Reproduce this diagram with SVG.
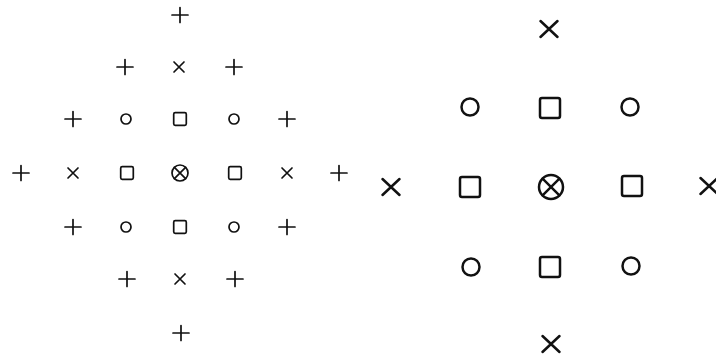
<svg xmlns="http://www.w3.org/2000/svg" xmlns:xlink="http://www.w3.org/1999/xlink" width="716" height="361" viewBox="0 0 716 361">
<style>
.s{fill:none;stroke:#111;stroke-linecap:round;stroke-linejoin:round}
.a{stroke-width:1.7}
.b{stroke-width:2.5}
</style>
<defs>
<path id="lp" class="s a" d="M-8,0H8M0,-7.5V7.5"/>
<path id="lx" class="s a" d="M-5,-5L5,5M5,-5L-5,5"/>
<circle id="lo" class="s a" r="5"/>
<rect id="ls" class="s a" x="-6.3" y="-6.3" width="12.6" height="12.6" rx="1.5"/>
<g id="lt" class="s a"><circle r="8"/><path d="M-5.6,-5.6L5.6,5.6M5.6,-5.6L-5.6,5.6"/></g>
<path id="rx" class="s b" d="M-8.5,-8L8.5,8M8.5,-8L-8.5,8"/>
<circle id="ro" class="s b" r="8.5"/>
<rect id="rs" class="s b" x="-10" y="-10" width="20" height="20" rx="2"/>
<g id="rt" class="s b"><circle r="12"/><path d="M-8.4,-8.4L8.4,8.4M8.4,-8.4L-8.4,8.4"/></g>
</defs>
<rect width="716" height="361" fill="#fff"/>
<g id="left">
<g id="l-r1"><use xlink:href="#lp" x="180" y="15"/></g>
<g id="l-r2"><use xlink:href="#lp" x="125" y="67"/><use xlink:href="#lx" x="179" y="67"/><use xlink:href="#lp" x="234" y="67"/></g>
<g id="l-r3"><use xlink:href="#lp" x="73" y="119"/><use xlink:href="#lo" x="126" y="119"/><use xlink:href="#ls" x="180" y="119"/><use xlink:href="#lo" x="234" y="119"/><use xlink:href="#lp" x="287" y="119"/></g>
<g id="l-r4"><use xlink:href="#lp" x="21" y="173"/><use xlink:href="#lx" x="73" y="173"/><use xlink:href="#ls" x="127" y="173"/><use xlink:href="#lt" x="180" y="173"/><use xlink:href="#ls" x="235" y="173"/><use xlink:href="#lx" x="287" y="173"/><use xlink:href="#lp" x="339" y="173"/></g>
<g id="l-r5"><use xlink:href="#lp" x="73" y="227"/><use xlink:href="#lo" x="126" y="227"/><use xlink:href="#ls" x="180" y="227"/><use xlink:href="#lo" x="234" y="227"/><use xlink:href="#lp" x="287" y="227"/></g>
<g id="l-r6"><use xlink:href="#lp" x="127" y="279"/><use xlink:href="#lx" x="180" y="279"/><use xlink:href="#lp" x="235" y="279"/></g>
<g id="l-r7"><use xlink:href="#lp" x="181" y="333"/></g>
</g>
<g id="right">
<g id="r-r1"><use xlink:href="#rx" x="549" y="29"/></g>
<g id="r-r2"><use xlink:href="#ro" x="470" y="107"/><use xlink:href="#rs" x="550" y="108"/><use xlink:href="#ro" x="630" y="107"/></g>
<g id="r-r3"><use xlink:href="#rx" x="391" y="187"/><use xlink:href="#rs" x="470" y="187"/><use xlink:href="#rt" x="551" y="187"/><use xlink:href="#rs" x="632" y="186"/><use xlink:href="#rx" x="709" y="186"/></g>
<g id="r-r4"><use xlink:href="#ro" x="471" y="267"/><use xlink:href="#rs" x="550" y="267"/><use xlink:href="#ro" x="631" y="266"/></g>
<g id="r-r5"><use xlink:href="#rx" x="551" y="344"/></g>
</g>
</svg>
